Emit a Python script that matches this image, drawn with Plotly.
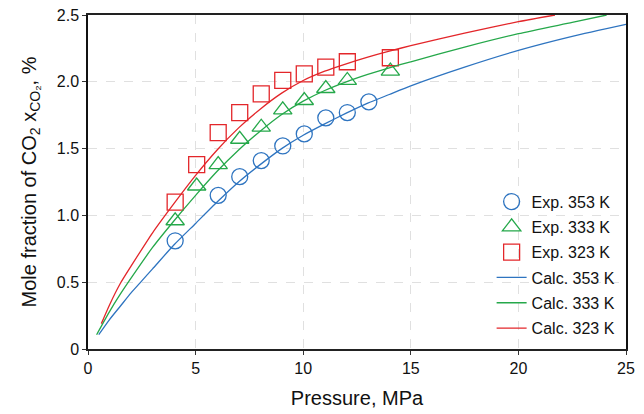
import plotly.graph_objects as go

# Experimental solubility data (pressure in MPa, mole fraction of CO2 in %)
p_exp_353 = [4.05, 6.05, 7.05, 8.05, 9.05, 10.05, 11.05, 12.05, 13.05]
x_exp_353 = [0.81, 1.15, 1.29, 1.41, 1.52, 1.61, 1.73, 1.77, 1.85]

p_exp_333 = [4.05, 5.05, 6.05, 7.05, 8.05, 9.05, 10.05, 11.05, 12.05, 14.05]
x_exp_333 = [0.96, 1.22, 1.38, 1.57, 1.66, 1.79, 1.86, 1.95, 2.01, 2.08]

p_exp_323 = [4.05, 5.05, 6.05, 7.05, 8.05, 9.05, 10.05, 11.05, 12.05, 14.05]
x_exp_323 = [1.10, 1.38, 1.62, 1.77, 1.91, 2.01, 2.06, 2.11, 2.15, 2.18]

# Model curves
p_calc_353 = [0.5, 1.0, 1.5, 2.0, 2.5, 3.0, 4.0, 5.0, 6.0, 7.0, 8.0, 9.0, 10.0, 11.0,
              12.0, 13.0, 14.0, 15.0, 17.5, 20.0, 22.5, 25.0]
x_calc_353 = [0.107, 0.22, 0.32, 0.42, 0.51, 0.60, 0.78, 0.94, 1.10, 1.25, 1.38, 1.50,
              1.60, 1.685, 1.765, 1.84, 1.905, 1.97, 2.11, 2.235, 2.34, 2.43]

p_calc_333 = [0.4, 1.0, 1.5, 2.0, 3.0, 4.0, 5.0, 6.0, 7.0, 8.0, 9.0, 10.0, 11.0, 12.0,
              13.0, 14.0, 15.0, 17.5, 20.0, 22.5, 24.1]
x_calc_333 = [0.107, 0.28, 0.41, 0.53, 0.76, 0.96, 1.15, 1.33, 1.49, 1.63, 1.755, 1.855,
              1.935, 2.0, 2.055, 2.105, 2.15, 2.26, 2.36, 2.445, 2.50]

p_calc_323 = [0.62, 1.0, 1.5, 2.0, 3.0, 4.0, 5.0, 6.0, 7.0, 8.0, 9.0, 10.0, 11.0, 12.0,
              13.0, 14.0, 15.0, 17.5, 20.0, 21.7]
x_calc_323 = [0.19, 0.33, 0.49, 0.62, 0.87, 1.09, 1.30, 1.49, 1.655, 1.795, 1.915, 2.01,
              2.08, 2.135, 2.185, 2.23, 2.27, 2.365, 2.45, 2.50]

x_ticks = [0, 5, 10, 15, 20, 25]
y_ticks = [0, 0.5, 1.0, 1.5, 2.0, 2.5]
y_tick_text = ["0", "0.5", "1.0", "1.5", "2.0", "2.5"]

BLUE = "#2e74c0"
GREEN = "#25a84a"
RED = "#e3262a"
FONT = "Liberation Sans, Arial, sans-serif"

fig = go.Figure()

exp_sets = [
    ("Exp. 353 K", p_exp_353, x_exp_353, BLUE, "circle-open", 16),
    ("Exp. 333 K", p_exp_333, x_exp_333, GREEN, "triangle-up-open", 16),
    ("Exp. 323 K", p_exp_323, x_exp_323, RED, "square-open", 16),
]
for i, (name, px, py, col, sym, sz) in enumerate(exp_sets):
    fig.add_trace(go.Scatter(
        x=px, y=py, mode="markers", name=name, legendgroup=f"g{i}",
        marker=dict(symbol=sym, size=sz, color=col, line=dict(width=1.3, color=col)),
    ))

calc_sets = [
    ("Calc. 353 K", p_calc_353, x_calc_353, BLUE),
    ("Calc. 333 K", p_calc_333, x_calc_333, GREEN),
    ("Calc. 323 K", p_calc_323, x_calc_323, RED),
]
for i, (name, px, py, col) in enumerate(calc_sets):
    fig.add_trace(go.Scatter(
        x=px, y=py, mode="lines", name=name, legendgroup=f"c{i}",
        line=dict(color=col, width=1.3, shape="spline", smoothing=0.6),
    ))

fig.update_layout(
    width=644, height=414,
    margin=dict(l=88, r=18, t=15, b=65),
    paper_bgcolor="white", plot_bgcolor="white",
    font=dict(family=FONT, size=16, color="#111"),
    legend=dict(
        x=0.99, y=0.01, xanchor="right", yanchor="bottom",
        bgcolor="rgba(0,0,0,0)", font=dict(size=16, family=FONT),
        tracegroupgap=1.5,
    ),
    showlegend=True,
)

fig.update_xaxes(
    range=[0, 25], tickvals=x_ticks, ticks="outside", ticklen=4, tickcolor="#333",
    showline=True, linecolor="#222", linewidth=1.5, mirror=True,
    showgrid=True, gridcolor="#e0e0e0", griddash="dash", gridwidth=1,
    zeroline=False, automargin=False,
    title=dict(text="Pressure, MPa", font=dict(size=20, family=FONT)),
    tickfont=dict(size=16, family=FONT),
)
fig.update_yaxes(
    range=[0, 2.5], tickvals=y_ticks, ticktext=y_tick_text, ticks="outside", ticklen=4,
    tickcolor="#333",
    showline=True, linecolor="#111", linewidth=1.5, mirror=True,
    showgrid=True, gridcolor="#e0e0e0", griddash="dash", gridwidth=1,
    zeroline=False, automargin=False,
    title=dict(text="Mole fraction of CO<sub>2</sub> x<sub>CO₂</sub>, %",
               font=dict(size=20, family=FONT)),
    tickfont=dict(size=16, family=FONT),
)

fig.write_html("out.html")
